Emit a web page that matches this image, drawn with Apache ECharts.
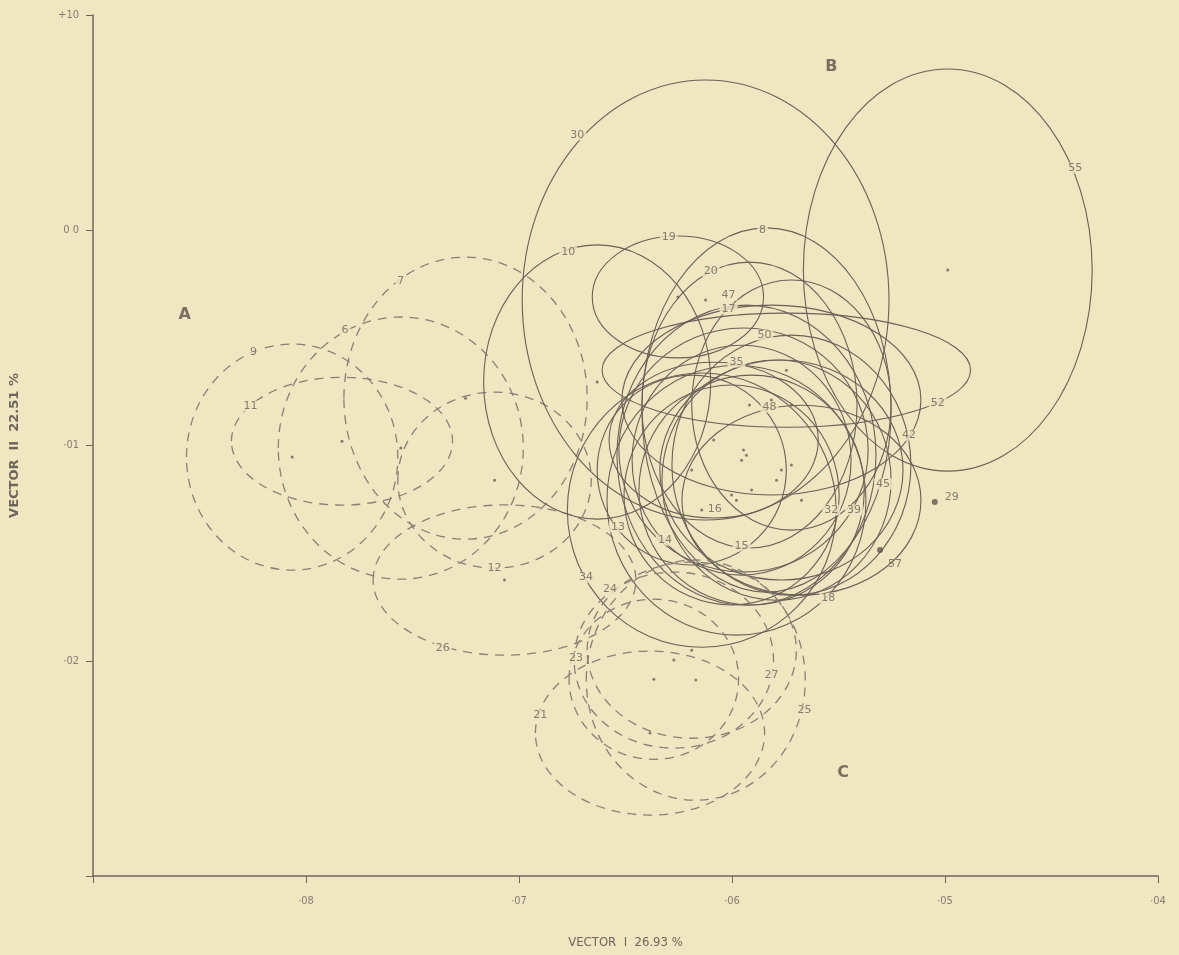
<!DOCTYPE html>
<html>
<head>
<meta charset="utf-8">
<script src="https://cdn.jsdelivr.net/npm/echarts@6/dist/echarts.min.js"></script>
<style>
  html, body { margin: 0; padding: 0; background: #f0e6c2; }
  #chart { width: 1179px; height: 955px; }
</style>
</head>
<body>
<div id="chart"></div>
<script>
// ellipses: sample number, centre, semi-axes (data units), dashed (groups A and C) or solid (group B)
const ids = ['9', '11', '6', '7', '12', '26',
  '30', '55', '10', '19', '8', '20', '47', '17', '50', '35', '48', '52', '42', '45', '32', '39', '18', '16', '15', '14', '13', '34',
  '21', '25', '27', '23', '24'];
const cx = [-0.8065, -0.7831, -0.7555, -0.7251, -0.7115, -0.7068,
  -0.6124, -0.4987, -0.6633, -0.6254, -0.5838, -0.5918, -0.5721, -0.5815, -0.5946, -0.5768, -0.5674, -0.5745, -0.5721, -0.5791, -0.6002, -0.5908, -0.5979, -0.6086, -0.6189, -0.5955, -0.5932, -0.6142,
  -0.6385, -0.6170, -0.6273, -0.6367, -0.6189];
const cy = [-0.1054, -0.0980, -0.1012, -0.0780, -0.1161, -0.1625,
  -0.0324, -0.0185, -0.0705, -0.0310, -0.0835, -0.0812, -0.0812, -0.0789, -0.1021, -0.1114, -0.1254, -0.0650, -0.1091, -0.1161, -0.1230, -0.1207, -0.1254, -0.0975, -0.1114, -0.1068, -0.1045, -0.1300,
  -0.2336, -0.2090, -0.1997, -0.2086, -0.1951];
const rx = [0.0496, 0.0519, 0.0575, 0.0571, 0.0454, 0.0617,
  0.0861, 0.0678, 0.0533, 0.0402, 0.0585, 0.0505, 0.0468, 0.0702, 0.0585, 0.0571, 0.0561, 0.0865, 0.0561, 0.0538, 0.0505, 0.0529, 0.0608, 0.0491, 0.0444, 0.0514, 0.0608, 0.0631,
  0.0538, 0.0514, 0.0468, 0.0398, 0.0491];
const ry = [0.0525, 0.0297, 0.0609, 0.0655, 0.0409, 0.0349,
  0.1022, 0.0934, 0.0637, 0.0283, 0.0846, 0.0664, 0.0581, 0.0441, 0.0567, 0.0511, 0.0441, 0.0265, 0.0604, 0.0558, 0.0511, 0.0534, 0.0627, 0.0362, 0.0441, 0.0534, 0.0697, 0.0637,
  0.0381, 0.0558, 0.0409, 0.0372, 0.0409];
const dashed = [1, 1, 1, 1, 1, 1,
  0, 0, 0, 0, 0, 0, 0, 0, 0, 0, 0, 0, 0, 0, 0, 0, 0, 0, 0, 0, 0, 0,
  1, 1, 1, 1, 1];
const labelX = [-0.8247, -0.8261, -0.7817, -0.7555, -0.7115, -0.7358,
  -0.6727, -0.4388, -0.6769, -0.6297, -0.5857, -0.6100, -0.6016, -0.6016, -0.5848, -0.5979, -0.5824, -0.5034, -0.5169, -0.5291, -0.5534, -0.5427, -0.5548, -0.6081, -0.5955, -0.6315, -0.6535, -0.6685,
  -0.6900, -0.5660, -0.5815, -0.6732, -0.6573];
const labelY = [-0.0566, -0.0817, -0.0464, -0.0236, -0.1570, -0.1941,
  0.0442, 0.0289, -0.0101, -0.0032, 0.0001, -0.0190, -0.0301, -0.0366, -0.0487, -0.0612, -0.0822, -0.0803, -0.0952, -0.1179, -0.1300, -0.1300, -0.1709, -0.1296, -0.1467, -0.1440, -0.1379, -0.1612,
  -0.2253, -0.2230, -0.2067, -0.1988, -0.1667];

// single samples without an ellipse
const singleIds = ['29', '57'];
const singleX = [-0.5048, -0.5305];
const singleY = [-0.1263, -0.1486];

// group letters
const groupNames = ['A', 'B', 'C'];
const groupX = [-0.857, -0.5534, -0.5478];
const groupY = [-0.0394, 0.0758, -0.2522];

const xTickLabels = { '-8': '·08', '-7': '·07', '-6': '·06', '-5': '·05', '-4': '·04' };
const yTickLabels = { '1': '+10', '0': '0 0', '-1': '·01', '-2': '·02' };

const bg = '#f0e6c2';
const ink = '#6a6157';
const inkLight = '#8a8176';

const chart = echarts.init(document.getElementById('chart'));

const ellipseData = ids.map((id, i) => [cx[i], cy[i], rx[i], ry[i], dashed[i]]);
const labelData = ids.map((id, i) => [labelX[i], labelY[i], id]);
const centreData = ids.map((id, i) => [cx[i], cy[i]]);

function renderEllipse(params, api) {
  const c = api.coord([api.value(0), api.value(1)]);
  const s = api.size([api.value(2), api.value(3)]);
  const isDashed = api.value(4) === 1;
  return {
    type: 'ellipse',
    silent: true,
    shape: { cx: c[0], cy: c[1], rx: s[0], ry: s[1] },
    style: {
      fill: 'none',
      stroke: isDashed ? inkLight : ink,
      lineWidth: isDashed ? 1.3 : 1.1,
      lineDash: isDashed ? [9, 7] : null
    }
  };
}

const option = {
  backgroundColor: bg,
  animation: false,
  grid: { left: 89, right: 21, top: 15, bottom: 79 },
  xAxis: {
    type: 'value',
    min: -0.9,
    max: -0.4,
    interval: 0.1,
    name: 'VECTOR  I  26.93 %',
    nameLocation: 'middle',
    nameGap: 60,
    nameTextStyle: { color: '#6e665c', fontSize: 13, fontFamily: 'DejaVu Sans Condensed, DejaVu Sans', letterSpacing: 1 },
    axisLine: { onZero: false, lineStyle: { color: '#6e665c', width: 1.5 } },
    axisTick: { length: 7, lineStyle: { color: '#6e665c' } },
    axisLabel: {
      margin: 20,
      color: '#857d72',
      fontSize: 11,
      fontFamily: 'DejaVu Sans Condensed, DejaVu Sans',
      formatter: v => xTickLabels[String(Math.round(v * 10))] || ''
    },
    splitLine: { show: false }
  },
  yAxis: {
    type: 'value',
    min: -0.3,
    max: 0.1,
    interval: 0.1,
    name: 'VECTOR  II  22.51 %',
    nameLocation: 'middle',
    nameGap: 72,
    nameRotate: 90,
    nameTextStyle: { color: '#6e665c', fontSize: 13, fontWeight: 'bold', fontFamily: 'DejaVu Sans', letterSpacing: 2 },
    axisLine: { onZero: false, lineStyle: { color: '#6e665c', width: 1.5 } },
    axisTick: { length: 7, lineStyle: { color: '#6e665c' } },
    axisLabel: {
      margin: 14,
      color: '#857d72',
      fontSize: 11,
      fontFamily: 'DejaVu Sans Condensed, DejaVu Sans',
      formatter: v => yTickLabels[String(Math.round(v * 10))] || ''
    },
    splitLine: { show: false }
  },
  series: [
    {
      type: 'custom',
      name: 'ellipses',
      renderItem: renderEllipse,
      data: ellipseData,
      z: 2
    },
    {
      type: 'scatter',
      name: 'centres',
      data: centreData,
      symbolSize: 3,
      itemStyle: { color: ink },
      silent: true,
      z: 3
    },
    {
      type: 'scatter',
      name: 'labels',
      data: labelData,
      symbolSize: 0,
      silent: true,
      z: 5,
      label: {
        show: true,
        position: 'inside',
        formatter: p => p.value[2],
        color: '#6a6157',
        fontSize: 11,
        fontFamily: 'DejaVu Sans',
        letterSpacing: 1,
        backgroundColor: bg,
        padding: [0, 2]
      }
    },
    {
      type: 'scatter',
      name: 'single',
      data: singleIds.map((id, i) => [singleX[i], singleY[i], id]),
      symbolSize: 6,
      itemStyle: { color: '#5e564d' },
      silent: true,
      z: 4,
      label: {
        show: true,
        position: 'right',
        formatter: p => p.value[2],
        color: '#6a6157',
        fontSize: 11,
        fontFamily: 'DejaVu Sans',
        letterSpacing: 1
      },
      labelLayout: p => p.dataIndex === 1 ? { dx: 0, dy: 14 } : { dx: 2, dy: -5 }
    },
    {
      type: 'scatter',
      name: 'groups',
      data: groupNames.map((g, i) => [groupX[i], groupY[i], g]),
      symbolSize: 0,
      silent: true,
      z: 5,
      label: {
        show: true,
        position: 'inside',
        formatter: p => p.value[2],
        color: '#5a5249',
        fontSize: 16,
        fontWeight: 'bold',
        fontFamily: 'DejaVu Sans'
      }
    }
  ]
};

chart.setOption(option);
</script>
</body>
</html>
